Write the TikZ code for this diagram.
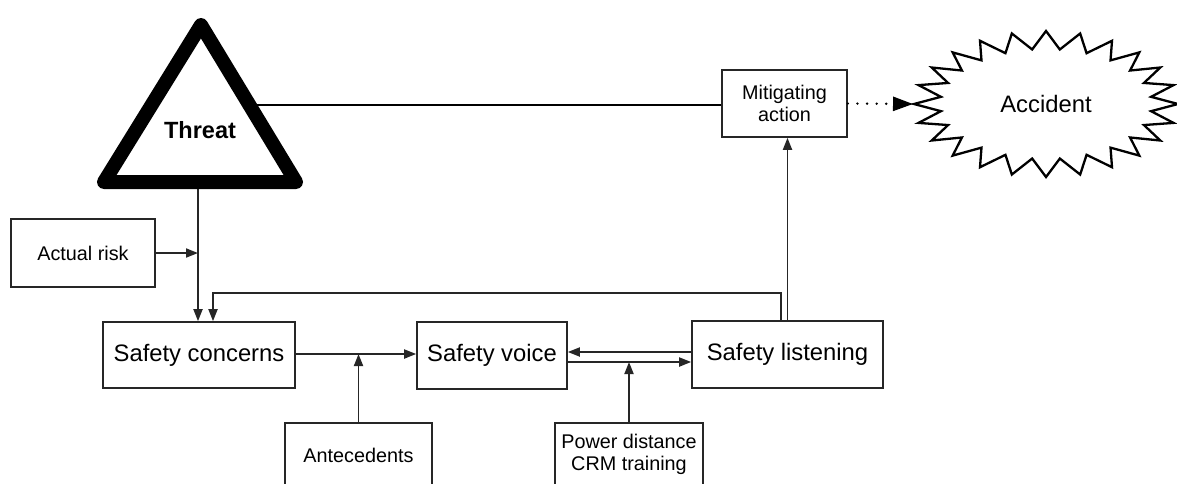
\documentclass[tikz,border=0pt]{standalone}
\usepackage{fontspec}
\setmainfont{Liberation Sans}
\usetikzlibrary{arrows.meta}
\begin{document}
\begin{tikzpicture}[x=1pt,y=-1pt,
  box/.style={draw=black!85, line width=1.6pt, inner sep=0pt, fill=white},
  big/.style={font=\fontsize{23.8}{27}\selectfont},
  small/.style={font=\fontsize{19.8}{22}\selectfont, align=center},
  conn/.style={line width=1.8pt, draw=black!85},
  arr/.style={-{Triangle[length=12pt,width=9pt]}}]
\useasboundingbox (0,0) rectangle (1177,483);
\clip (0,0) rectangle (1177,483);

% boxes
\node[box, minimum width=144, minimum height=68] (act) at (83,253) {};
\node[small] (actt) at (83,253) {Actual risk};
\node[box, minimum width=192, minimum height=66] (con) at (199,355) {};
\node[big] (cont) at (199,355) {Safety concerns};
\node[box, minimum width=150, minimum height=67] (voi) at (492,355.5) {};
\node[big] (voit) at (492,355.5) {Safety voice};
\node[box, minimum width=191, minimum height=67] (lis) at (787.5,354.5) {};
\node[big] (list) at (787.5,354.5) {Safety listening};
\node[box, minimum width=125, minimum height=67] (mit) at (784.5,103.5) {};
\node[small] (mitt) at (784.5,103.5) {Mitigating\\action};
\node[box, anchor=north, minimum width=147, minimum height=90] (ant) at (358.5,422) {};
\node[small] (antt) at (358.5,455) {Antecedents};
\node[box, anchor=north, minimum width=148, minimum height=90] (pow) at (629,422) {};
\node[small] (powt) at (629,454) {Power distance\\CRM training};

% threat triangle coordinates
\coordinate (tA) at (201,25);
\coordinate (tL) at (104,182);
\coordinate (tR) at (296,182);
\coordinate (tE) at (249,105);
\coordinate (tS) at (198,182);

% connectors
\draw[conn, line width=2.3pt, draw=black] (tE) -- (tE -| mit.west);
\draw[conn, arr] (tS) -- (tS |- con.north);
\draw[conn, arr] (act.east) -- (act.east -| tS);
\draw[conn, arr] ([xshift=-6.5pt]lis.north) -- (781,293) -| ([xshift=14pt]con.north);
\draw[conn, arr] (lis.north) -- (lis.north |- mit.south);
\draw[conn, arr] (con.east |- 0,354) -- (voi.west |- 0,354);
\draw[conn, arr] (ant.north) -- (ant.north |- 0,354);
\draw[conn, arr] (lis.west |- 0,352) -- (voi.east |- 0,352);
\draw[conn, arr] (voi.east |- 0,362) -- (lis.west |- 0,362);
\draw[conn, arr] (pow.north) -- (pow.north |- 0,362);

% triangle
\draw[line width=14pt, line join=round, fill=white] (tA) -- (tL) -- (tR) -- cycle;
\node[big, font=\fontsize{23.5}{27}\selectfont\bfseries] (threat) at (200,130) {Threat};

% accident starburst
\begin{scope}[shift={(1046,104)}]
\draw[line width=2.3pt, line join=miter, fill=white] (132,0)
  \foreach \k in {0,...,23}{ -- ({106*cos(15*\k+7.5)},{55*sin(15*\k+7.5)}) -- ({132*cos(15*\k+15)},{73*sin(15*\k+15)}) } -- cycle;
\end{scope}
\node[big] (acc) at (1046,104) {Accident};
\coordinate (accw) at (913,104);

% dotted arrow
\draw[line width=2.6pt, line cap=round, dash pattern=on 0.1pt off 9.5pt, -{Triangle[length=20pt,width=14pt]}] (mit.east) -- (accw);
\end{tikzpicture}
\end{document}
